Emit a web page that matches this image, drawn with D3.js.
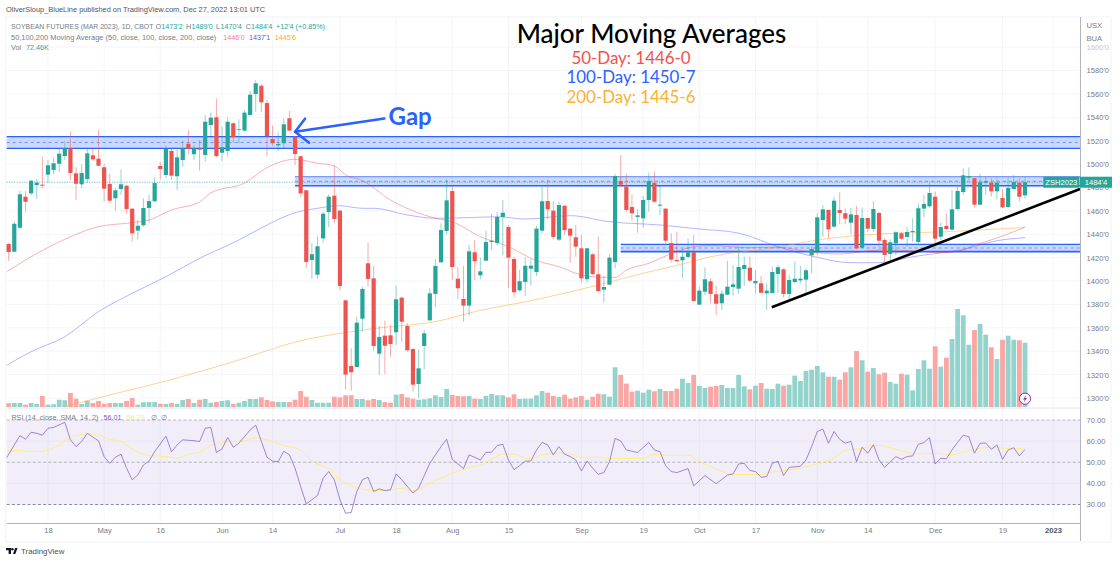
<!DOCTYPE html>
<html>
<head>
<meta charset="utf-8">
<script src="https://cdn.jsdelivr.net/npm/d3@7/dist/d3.min.js"></script>
<style>
	html, body { margin: 0; padding: 0; background: #fff; }
	svg { display: block; }
	text { font-family: "Liberation Sans", sans-serif; }
	.big { font-family: Lato, sans-serif; }
	.axis text { fill: #787b86; font-size: 7.6px; }
</style>
</head>
<body>
<svg id="chart" width="1120" height="563"></svg>
<script>
// daily candles, ZSH2023
const opens = [
	1431.7,1425.1,1445.6,1472.1,1475,1482.1,1482.4,1491,1495,1500.3,
	1506.9,1513.5,1492.1,1482.7,1487.2,1507.5,1504.6,1497.3,1483,1470.8,
	1478.7,1481.5,1461.9,1443.1,1447.7,1462.5,1468.2,1498.4,1490.7,1511.2,
	1489.6,1503.5,1517.4,1508.4,1513.5,1507.8,1533.4,1540,1509.7,1511.2,
	1534.9,1529.2,1528.6,1542,1559.9,1567,1552.2,1521.4,1516.1,1517.8,
	1539.2,1523.4,1506.7,1477.6,1418,1405.4,1436.5,1459,1473,1460.2,
	1383.5,1327.4,1326.5,1367.8,1415.2,1402.3,1337.9,1353.3,1353.6,1356.2,
	1385.8,1361.6,1341.9,1312,1344.5,1366.4,1389,1416,1442.8,1477,
	1402,1384.7,1379,1424.6,1404.9,1417.4,1433.4,1432.5,1454.8,1446.2,
	1418.9,1392.1,1399.2,1410.6,1407.7,1443.1,1468.4,1460.2,1435.4,1464.4,
	1444.8,1437.4,1428,1401.5,1422.9,1405.8,1392.6,1396.9,1416.3,1485.5,
	1480.7,1463.3,1454.8,1453.6,1469.3,1483.8,1464.4,1461.9,1432.5,1418,
	1417.7,1420.6,1424.6,1379.8,1390.9,1399.8,1388.7,1381,1388.3,1394.9,
	1393.5,1410.3,1411.4,1398.1,1398.1,1389.5,1389.8,1406,1410,1388.9,
	1399.2,1400.6,1401.2,1422,1425.7,1452.2,1460.8,1446.5,1460.8,1458,
	1449.9,1456.5,1428.5,1453.9,1444.5,1458.2,1435.1,1423.1,1432.3,1440.8,
	1437.7,1442,1433.4,1461.9,1463.9,1472.1,1437.9,1447.1,1443.9,1461.6,
	1476.1,1488.5,1487.9,1465.3,1484.1,1484.1,1476.7,1471,1463.3,1478.7,1484.1,1473.25
];
const closes = [
	1424.8,1449,1474.2,1467.8,1485.8,1484.1,1481.5,1499,1500.7,1508.9,
	1513.5,1492.4,1483.2,1492.4,1509.2,1504.1,1498.6,1479,1468.7,1477.6,
	1482.7,1461.6,1440.8,1447.3,1462.5,1468.4,1483.8,1495.8,1513.2,1490.1,
	1505.8,1513.5,1513.2,1513.5,1512.3,1536.2,1539.7,1506.9,1514.4,1536.2,
	1522.9,1529.8,1544,1559.3,1569.1,1552.8,1524,1517.8,1517.2,1534,
	1528.6,1508.6,1475,1416.3,1422.9,1429.7,1457.6,1472.1,1453.1,1395.8,
	1320,1322,1364.4,1393.2,1401.8,1344.5,1352.2,1344.7,1346.2,1384.4,
	1365.2,1340.8,1311.4,1325.4,1355.3,1389.5,1412.9,1443.6,1469,1412,
	1393.8,1379,1425.4,1416.9,1408.3,1433.4,1434.5,1454.8,1458.4,1420,
	1390.4,1399.8,1413.1,1413.1,1444.8,1468.2,1461.3,1437.7,1465,1443.6,
	1438.8,1429.4,1402.3,1428,1406,1391.5,1394.9,1420,1489.8,1482.4,
	1460.8,1457.9,1456.2,1469.3,1485.5,1467.8,1465.3,1434.5,1418.3,1416.9,
	1420.8,1424.6,1383,1391.8,1401.5,1389,1380.6,1389.2,1395.2,1397.2,
	1412,1413.7,1400.3,1400,1390,1391.8,1407.7,1411.8,1388.9,1400.9,
	1402,1402,1409.2,1427.4,1454.5,1461.3,1444.2,1468.7,1458.2,1453.3,
	1457,1428,1453.9,1444.8,1461.6,1434.5,1422.3,1433.1,1441.7,1436.2,
	1442,1442.8,1462.2,1465.9,1475.3,1436.2,1446.2,1444.5,1461.3,1477,
	1490.4,1489.8,1465.3,1484.4,1485.3,1476.7,1484.1,1463,1479.6,1484.7,1472.1,1484.5
];
const highs = [
	1432.5,1451.3,1477.3,1477,1486.4,1487.3,1506.3,1503.5,1505,1513.5,
	1519.5,1527.7,1497.3,1499.8,1514,1513.5,1529.2,1500.1,1491.5,1479.6,
	1495.5,1482.1,1462.2,1452.2,1470.7,1473.6,1488.7,1502,1516.3,1513.5,
	1512,1520,1529.2,1516.3,1520.6,1542,1544.3,1555.7,1532,1540,
	1535.7,1538.3,1546.2,1562.5,1571.9,1568.5,1554.8,1532.8,1527.2,1539.2,
	1545.4,1524,1507,1477.9,1432.3,1438.8,1459.3,1474.2,1498.6,1460.7,
	1383.8,1342.5,1369.5,1395.2,1432.8,1413.1,1361.6,1366.1,1361.8,1396,
	1386.6,1363.9,1342.3,1341.6,1358.2,1393.8,1418.6,1449.4,1487,1481.3,
	1411.8,1412.9,1430.8,1435.1,1420,1443,1457.9,1459,1469.3,1447.9,
	1420.8,1409.4,1420.3,1418.8,1447.1,1480.2,1487,1468.4,1467.9,1465,
	1445.4,1447.9,1439.4,1428.5,1423.7,1437.9,1404.3,1423.1,1491.5,1507.8,
	1491.5,1474.2,1461.3,1472.7,1492.6,1493.5,1482.1,1462.2,1440.8,1442.2,
	1427.4,1436.5,1439.4,1395.2,1411.8,1402.3,1396,1392.3,1417.4,1413.7,
	1429.4,1420.8,1420.8,1409.4,1404.3,1397.5,1412.3,1413.7,1410.9,1405.2,
	1416.5,1412.9,1410.9,1429.4,1457.9,1465,1461.2,1472.1,1475.9,1462.2,
	1462.7,1464.2,1463,1454.3,1468.4,1459.3,1436.5,1435.7,1442.8,1442.2,
	1446.5,1453.6,1466.5,1473.6,1483.6,1476.4,1449.9,1457.9,1477.9,1482.1,
	1496.4,1497.1,1488.1,1492.1,1489.2,1487.9,1488.7,1478.5,1488.7,1490.7,1488.4,1489
];
const lows = [
	1417.1,1424.8,1444.2,1459.3,1473.3,1470.2,1479.3,1484.1,1491.3,1493,
	1503.5,1486.4,1469.3,1479.3,1484.4,1502.6,1498.4,1468.2,1466.5,1460.1,
	1473.6,1457.9,1433.6,1435.7,1446.5,1449.4,1467.8,1486.7,1487.9,1486.4,
	1477.9,1497.8,1508.6,1503.5,1494.3,1502,1524,1505.8,1502.6,1506.3,
	1518,1517.8,1528.3,1542,1544.8,1544.3,1506.9,1515.7,1511.2,1513.5,
	1528.3,1499.2,1471.6,1410.9,1401.8,1401.8,1432.8,1446,1449.4,1392.3,
	1307.4,1306.3,1326.3,1356.7,1395.2,1340.4,1319.7,1320.3,1335.3,1345.3,
	1347.6,1339.6,1305.4,1299.8,1324.5,1366.1,1377.6,1415.7,1440,1400.9,
	1384.4,1365.3,1370.1,1400.9,1401.5,1417.2,1426.5,1430.8,1422.3,1393.8,
	1386.1,1390.9,1387.2,1396,1404.3,1440.8,1452.8,1435.7,1434.2,1439.4,
	1415.7,1420.8,1398.6,1398.6,1405.2,1390.4,1381.5,1396.6,1410.9,1480.7,
	1459.3,1451.6,1441.3,1445.6,1459.3,1467,1456.5,1432.3,1416,1416.5,
	1402.3,1419.5,1382.4,1379.5,1388.1,1381,1371,1375.2,1388.1,1387.5,
	1389,1396,1399.4,1389.5,1389.5,1375.2,1389.5,1389.5,1386.1,1384.4,
	1398.1,1398.1,1389.5,1406.6,1422.3,1437.9,1436.6,1445.6,1448.5,1448.5,
	1440.2,1427.1,1428,1442.2,1442.2,1429.4,1413.7,1416.5,1422.3,1435.1,
	1429.4,1433.6,1430.8,1454.5,1462.9,1431.7,1435.1,1444.1,1443.6,1460.7,
	1473.6,1486.4,1462.7,1465,1473.6,1472.1,1469.9,1462.5,1462.2,1478.3,1468.2,1470.5
];
// volume in thousands
const volumes = [
	4.2,4.5,4.5,2.6,4.5,3.4,12.4,2.6,3,8.2,
	7.6,15.8,9.4,3.4,7.1,4.5,6.8,3.7,4.5,4.5,
	4.5,6.8,10.1,2.6,5.3,5.6,5.6,3.7,3.4,4.5,
	3.4,7.9,9,4.5,8.2,9,4.8,5.6,6.8,7.6,
	3.4,4.8,6.8,9,9,10.9,7.9,6.4,5.6,5.6,
	5.6,8.2,18,11.6,7.9,4.8,4.8,4.8,11.6,10.9,
	13.2,13.2,9,9,7.6,9,7.9,5.6,4.8,13.9,
	14.7,10.9,9.4,8.2,8.7,9.8,13.2,11.3,20.3,13.5,
	12.4,12.1,12.4,9.4,9,12.4,14.7,13.2,13.2,10.9,
	14.3,9,9.4,9.4,13.2,18,16.1,12.4,11.3,13.9,
	9.4,10.9,12.4,8.2,11.6,15,14.3,11.6,44.7,36.1,
	26.3,17.2,18.4,16.1,19.5,17.7,20.3,18,18,20.6,
	31.9,27,36.1,23.7,21.4,22.9,23.7,24.8,21.4,21.4,
	36.1,23.3,19.9,24,27,20.6,20.3,26.3,24,25.1,
	35.3,29.3,40.6,42,46.2,39.1,34.1,34.1,30.8,39.1,
	44.7,63.1,52.6,39.8,44,36.9,38.7,28.2,26.3,37.5,
	36.4,18.8,42.8,52.6,43.2,68.4,45.4,55.6,76.6,110.4,
	103.3,70.2,86.8,93.5,81.5,67.3,54.1,75.8,80.4,75.8,75.2,72.46
];

// moving averages, read at the bends of each line (bar number, price)
const ma50Bars = [-0.35,4,10,16,22,25,29,34,36,42,46,51,55,58,60,63,68,73,76,79,84,89,94,98,102,106,108,110,114,117,119,122,125,132,137,143,148,155,161,166,170,172,174,179,181];
const ma50Values = [1408,1420.8,1435.7,1446.5,1449.9,1452.2,1460.8,1467.6,1475.3,1483.8,1496.9,1504.1,1500.7,1498.6,1490.7,1486,1469.3,1458.2,1453.7,1450.7,1437.9,1429.4,1417.4,1412.3,1405.2,1403.2,1403.2,1409.4,1415.2,1421.4,1425.1,1429.4,1430.4,1428.5,1428.9,1424.6,1423.1,1426.5,1426,1424.2,1426.5,1430.8,1433.6,1442.2,1446];
const ma100Bars = [-0.35,4,10,16,22,28,34,41,46,51,55,59,63,65,71,76,82,87,92,100,107,116,123,130,137,143,150,155,161,170,176,181];
const ma100Values = [1328,1339.6,1352.4,1373.8,1389.5,1403.7,1419.4,1435.1,1447.9,1458.4,1462.2,1464.4,1462.2,1462.2,1456.5,1453.7,1454.2,1455,1453,1455.9,1450.7,1447.9,1444.5,1441,1429.4,1421.4,1415.7,1415.7,1420.8,1427.1,1434.5,1437.1];
const ma200Bars = [10,18,28,40,52,61,67,76,83,95,105,113,120,125,137,144,155,167,181];
const ma200Values = [1292.6,1302.6,1314.5,1331,1349,1356.7,1360.5,1365.3,1373.8,1385.2,1396.6,1406.6,1414.6,1420.8,1428.9,1435.1,1440.2,1442.2,1445.8];

// RSI pane
const rsiBars = [-0.35,2,3,4,5,6,7,8,10,11,12,13,14,16,17,18,19,20,21,22,23,24,25,26,28,29,30,31,33,34,35,36,37,38,39,40,41,43,44,46,47,48,49,50,51,52,53,55,56,57,58,59,60,61,62,63,64,65,66,67,68,69,70,72,73,75,77,78,79,81,82,84,85,86,87,88,89,90,91,92,93,94,95,96,97,98,99,100,101,102,103,104,105,106,107,108,109,110,112,114,115,116,117,118,119,121,122,124,126,128,129,130,131,132,133,134,135,136,137,138,139,141,142,143,144,145,146,147,148,149,150,151,152,153,154,155,156,158,159,160,161,162,163,164,165,166,167,168,169,170,171,172,173,174,175,176,177,178,179,180,181];
const rsiValues = [52.2,62.6,60.9,64.2,63.7,62.8,66.1,66.5,68.9,60.6,57.4,59.8,63.7,60.1,52.7,49.5,52.4,53.8,47.2,41.7,44,48.7,50.6,55,62.4,55,58.2,60.6,60.2,59.8,66.1,66.5,54.6,56.3,61.7,57.1,59,65.3,67.5,52.4,50.5,50.3,55.2,53.5,47.2,38.5,30.2,34.3,42.4,45.6,41.7,32.2,25.9,26.2,36.1,41.7,42.9,36.1,37.4,36.6,36.9,44.5,41.7,35.4,37.7,49.5,57.4,60.9,51.4,47,53.5,51.1,54.7,54.7,57.9,58.5,51.1,46.5,48.4,50.5,50.6,55.8,59.4,58.2,53.5,57.4,53.8,52.7,51.1,45.9,50.6,47.2,44.3,45.1,50.3,61.3,60.1,55.8,54.6,59.4,55.8,55,48.4,45.6,45.1,47,38.8,43.7,39.8,43.9,44.5,49.2,49.5,46.1,45.6,42.9,43.2,49.5,50.5,43.7,47.6,48.1,51.1,57.4,64.5,65.7,59,64.6,60.9,59,59.9,50.3,57.1,54.3,58.3,51.1,47.6,52.7,51.4,52.7,53,58.5,59.3,61.7,49.2,51.9,51.6,55.8,59.4,62.8,62.1,54.3,59,59.1,56.1,58.2,51.4,55.8,56.9,53,56.01];
const rsiMaBars = [-0.35,2,4,6,9,11,14,16,18,20,22,25,28,30,32,34,36,39,42,44,47,49,52,54,57,59,61,65,68,70,72,75,79,82,84,86,88,90,92,93,95,98,100,102,105,107,113,115,117,121,123,126,129,134,136,139,141,144,147,149,152,155,157,159,162,165,168,171,175,179,181];
const rsiMaValues = [55.5,55.5,55,55.2,58.2,61.7,63.4,62.8,60.9,59.8,56.3,53.1,52.7,52,53.8,54.6,57.9,59.6,60.2,61.5,59.8,57.9,55.8,50.6,46.9,41.7,39,36.6,36.9,37.7,36.5,40.1,44.8,47.5,48.7,51.4,53.9,53.8,51.9,51.7,53.5,54.3,53.9,52.4,52.4,51.7,51.9,53.8,53.3,53.3,50.3,46.9,44.2,44.2,45.3,46.4,47.3,49.2,51.9,55.5,56.6,58,56.9,55.4,53.9,54.3,53.5,55.7,57.1,56.3,56.79];

// axes
const priceTicks = [1300,1320,1340,1360,1380,1400,1420,1440,1460,1480,1500,1520,1540,1560,1580,1600];
const rsiTicks = [30,40,50,60,70];
const timeTickBars = [7,17,27,38,47,59,69,79,89,102,113,123,133,144,153,165,177,186];
const timeTickLabels = ["18","May","16","Jun","14","Jul","18","Aug","15","Sep","19","Oct","17","Nov","14","Dec","19","2023"];

// drawings on the chart: [first bar, top price, bottom price]
const zoneBars = [-0.35, 51, 109];
const zoneTops = [1523.4, 1489.2, 1431.4];
const zoneBottoms = [1513.5, 1481.5, 1425.1];
const trendBars = [135.9, 190.8];
const trendPrices = [1377.6, 1478.7];
const gapArrowBars = [66.9, 51];
const gapArrowPrices = [1539, 1527.7];

const lastBar = 190.8; // right edge of the panes
const green = "#26a69a", red = "#ef5350", blue = "#2962ff";

var svg = d3.select("#chart");
var bars = d3.range(opens.length);

var x = d3.scaleLinear().domain([0, 181]).range([8.67, 1025]);
var y = d3.scaleLinear().domain([1300, 1520]).range([398, 140.7]);
var yVol = d3.scaleLinear().domain([0, 72.46]).range([407, 342.7]);
var yRsi = d3.scaleLinear().domain([30, 70]).range([504.5, 420]);

var paneLeft = x(-0.35), paneRight = x(lastBar);

// --- frame and grid
var frame = svg.append("g");
frame.append("rect").attr("x", paneLeft - 1).attr("y", 17).attr("width", 1112 - paneLeft).attr("height", 525).attr("fill", "none").attr("stroke", "#f0f3fa");

var grid = svg.append("g").attr("stroke", "#f3f5fb").attr("stroke-width", 1);
grid.selectAll(".gx").data(timeTickBars).join("line")
	.attr("x1", d => x(d)).attr("x2", d => x(d)).attr("y1", 17).attr("y2", 523);
grid.selectAll(".gy").data(priceTicks).join("line")
	.attr("x1", paneLeft).attr("x2", paneRight).attr("y1", d => y(d)).attr("y2", d => y(d));

// --- zones under the candles
var zones = svg.append("g");
zoneBars.forEach(function(bar, i) {
	var left = x(bar), top = y(zoneTops[i]), bottom = y(zoneBottoms[i]);
	zones.append("rect").attr("x", left).attr("y", top).attr("width", paneRight - left).attr("height", bottom - top)
		.attr("fill", blue).attr("fill-opacity", 0.24);
	zones.append("line").attr("x1", left).attr("x2", paneRight).attr("y1", top).attr("y2", top)
		.attr("stroke", blue).attr("stroke-width", 1.3).attr("stroke-opacity", i == 1 ? 0.6 : 1);
	zones.append("line").attr("x1", left).attr("x2", paneRight).attr("y1", bottom).attr("y2", bottom)
		.attr("stroke", blue).attr("stroke-width", i == 0 ? 1.3 : 1.7);
	zones.append("line").attr("x1", left).attr("x2", paneRight).attr("y1", (top + bottom) / 2).attr("y2", (top + bottom) / 2)
		.attr("stroke", blue).attr("stroke-opacity", 0.7).attr("stroke-width", 0.8).attr("stroke-dasharray", "3 3");
});

// --- current price line
svg.append("line").attr("x1", paneLeft).attr("x2", paneRight).attr("y1", y(closes[181])).attr("y2", y(closes[181]))
	.attr("stroke", green).attr("stroke-width", 0.8).attr("stroke-dasharray", "1 1.5");

// --- volume
svg.append("g").selectAll("rect").data(bars).join("rect")
	.attr("x", d => x(d) - 2.4).attr("width", 4.8)
	.attr("y", d => yVol(volumes[d])).attr("height", d => yVol(0) - yVol(volumes[d]))
	.attr("fill", d => closes[d] >= opens[d] ? "#93d3cb" : "#f9a6a4");

// --- moving averages
var straight = d3.line();
var smooth = d3.line().curve(d3.curveMonotoneX);
function addLine(parent, gen, xs, ys, scale, color, opacity, width) {
	parent.append("path")
		.attr("d", gen(xs.map((b, i) => [x(b), scale(ys[i])])))
		.attr("fill", "none").attr("stroke", color).attr("stroke-opacity", opacity).attr("stroke-width", width);
}
addLine(svg, smooth, ma200Bars, ma200Values, y, "#ffa726", 0.5, 1);
addLine(svg, smooth, ma100Bars, ma100Values, y, "#4c50ff", 0.42, 1);
addLine(svg, smooth, ma50Bars, ma50Values, y, "#f4434f", 0.42, 1);

// --- candles
var candles = svg.append("g");
candles.selectAll(".wick").data(bars).join("line")
	.attr("x1", d => x(d)).attr("x2", d => x(d))
	.attr("y1", d => y(highs[d])).attr("y2", d => y(lows[d]))
	.attr("stroke", d => closes[d] >= opens[d] ? green : red)
	.attr("stroke-width", 0.9).attr("stroke-opacity", 0.55);
candles.selectAll(".body").data(bars).join("rect")
	.attr("x", d => x(d) - 2.1).attr("width", 4.2)
	.attr("y", d => y(Math.max(opens[d], closes[d])))
	.attr("height", d => Math.max(0.8, Math.abs(y(opens[d]) - y(closes[d]))))
	.attr("fill", d => closes[d] >= opens[d] ? green : red);

// --- trend line and gap arrow
svg.append("line")
	.attr("x1", x(trendBars[0])).attr("x2", x(trendBars[1]))
	.attr("y1", y(trendPrices[0])).attr("y2", y(trendPrices[1]))
	.attr("stroke", "#000").attr("stroke-width", 2.6);

var tipX = x(gapArrowBars[1]), tipY = y(gapArrowPrices[1]);
var arrow = svg.append("g").attr("fill", "none").attr("stroke", blue).attr("stroke-width", 2.6).attr("stroke-linejoin", "round").attr("stroke-linecap", "round");
arrow.append("line").attr("x1", x(gapArrowBars[0])).attr("y1", y(gapArrowPrices[0])).attr("x2", tipX).attr("y2", tipY);
arrow.append("polyline").attr("points", [[tipX + 10, tipY - 13], [tipX, tipY], [tipX + 14, tipY + 11]].join(" "));
svg.append("text").attr("class", "big").attr("x", 388.5).attr("y", 125).attr("fill", blue)
	.attr("font-size", 24).attr("font-weight", 700).text("Gap");

// --- lightning badge
svg.append("circle").attr("cx", x(181)).attr("cy", 398.7).attr("r", 5.6).attr("fill", "#fff").attr("stroke", "#9c27b0").attr("stroke-width", 1);
svg.append("polygon").attr("fill", "#9c27b0")
	.attr("points", [[x(181) + 1.2, 395], [x(181) - 2, 399.4], [x(181) - 0.2, 399.4], [x(181) - 1.2, 402.4], [x(181) + 2, 398], [x(181) + 0.2, 398]].join(" "));

// --- RSI pane
var rsiPane = svg.append("g");
rsiPane.append("rect").attr("x", paneLeft).attr("width", paneRight - paneLeft)
	.attr("y", yRsi(70)).attr("height", yRsi(30) - yRsi(70)).attr("fill", "#7e57c2").attr("fill-opacity", 0.1);
[60, 40].forEach(v => rsiPane.append("line").attr("x1", paneLeft).attr("x2", paneRight).attr("y1", yRsi(v)).attr("y2", yRsi(v)).attr("stroke", "#e9e5f4"));
[70, 50, 30].forEach(function(v) {
	rsiPane.append("line").attr("x1", paneLeft).attr("x2", paneRight).attr("y1", yRsi(v)).attr("y2", yRsi(v))
		.attr("stroke", "#787b86").attr("stroke-opacity", v == 30 ? 0.85 : 0.5).attr("stroke-dasharray", "3 2.2");
});
addLine(rsiPane, smooth, rsiMaBars, rsiMaValues, yRsi, "#ffee58", 0.75, 1);
addLine(rsiPane, straight, rsiBars, rsiValues, yRsi, "#7e57c2", 0.7, 1);

// --- panes and axes
svg.append("line").attr("x1", paneLeft).attr("x2", paneRight).attr("y1", 408).attr("y2", 408).attr("stroke", "#e4e6ee");
svg.append("line").attr("x1", paneLeft).attr("x2", 1080.5).attr("y1", 523.5).attr("y2", 523.5).attr("stroke", "#b2b5be");
svg.append("line").attr("x1", 1080.5).attr("x2", 1080.5).attr("y1", 17).attr("y2", 541).attr("stroke", "#b2b5be");

var priceAxis = svg.append("g").attr("class", "axis").attr("transform", "translate(1086.5,0)")
	.call(d3.axisRight(y).tickValues(priceTicks).tickFormat(d => d + "'0").tickSize(0).tickPadding(0));
priceAxis.select(".domain").remove();
priceAxis.selectAll("text").filter(d => d == 1600).style("fill", "#c4c6ce");

var rsiAxis = svg.append("g").attr("class", "axis").attr("transform", "translate(1086.5,0)")
	.call(d3.axisRight(yRsi).tickValues(rsiTicks).tickFormat(d3.format(".2f")).tickSize(0).tickPadding(0));
rsiAxis.select(".domain").remove();

var timeAxis = svg.append("g").attr("class", "axis").attr("transform", "translate(0,528)")
	.call(d3.axisBottom(x).tickValues(timeTickBars).tickFormat((d, i) => timeTickLabels[i]).tickSize(0).tickPadding(0));
timeAxis.select(".domain").remove();
timeAxis.selectAll("text").filter(d => d == 186).style("fill", "#50535e").attr("font-weight", 700);

// --- last price labels
var priceY = y(closes[181]);
svg.append("rect").attr("x", 1043.3).attr("y", priceY - 5.5).attr("width", 36).attr("height", 11).attr("fill", green);
svg.append("rect").attr("x", 1080).attr("y", priceY - 5.5).attr("width", 32).attr("height", 11).attr("fill", green);
svg.append("text").attr("x", 1061.3).attr("y", priceY + 2.7).attr("text-anchor", "middle").attr("fill", "#fff").attr("font-size", 7.6).text("ZSH2023");
svg.append("text").attr("x", 1096).attr("y", priceY + 2.7).attr("text-anchor", "middle").attr("fill", "#fff").attr("font-size", 7.6).text("1484'4");

svg.append("text").attr("x", 1086.5).attr("y", 28).attr("fill", "#787b86").attr("font-size", 7.6).text("USX");
svg.append("text").attr("x", 1086.5).attr("y", 40.5).attr("fill", "#787b86").attr("font-size", 7.6).text("BUA");

// --- legend lines: [text, colour, left edge, font size]
function legend(py, parts) {
	parts.forEach(function(p) {
		svg.append("text").attr("x", p[2]).attr("y", py).attr("font-size", p[3] || 7.2).attr("fill", p[1]).text(p[0]);
	});
}
const gray = "#787b86";
legend(28.5, [["SOYBEAN FUTURES (MAR 2023), 1D, CBOT", gray, 11, 6.9],
	["O", gray, 155.5], ["1473'2", green, 161.3], ["H", gray, 186], ["1489'0", green, 191.5], ["L", gray, 216], ["1470'4", green, 220.5],
	["C", gray, 245.7], ["1484'4", green, 251], ["+12'4 (+0.85%)", green, 276]]);
legend(39.5, [["50,100,200 Moving Average (50, close, 100, close, 200, close)", gray, 11, 7.45],
	["1446'0", "#f77c80", 223.3], ["1437'1", "#5b5cff", 249], ["1445'6", "#ffa726", 274.7]]);
legend(50, [["Vol", gray, 11], ["72.46K", green, 26]]);
legend(419.5, [["RSI (14, close, SMA, 14, 2)", gray, 11.4], ["56.01", "#7e57c2", 103.6], ["56.79", "#ffee58", 126.8], ["∅", gray, 150.7], ["∅", gray, 160.7]]);

svg.append("text").attr("x", 6).attr("y", 12).attr("font-size", 7.4).attr("fill", "#50535e")
	.text("OliverSloup_BlueLine published on TradingView.com, Dec 27, 2022 13:01 UTC");

// --- big titles
const titleLines = ["50-Day: 1446-0", "100-Day: 1450-7", "200-Day: 1445-6"];
const titleColors = ["#ef5350", "#2962ff", "#f9b233"];
svg.append("text").attr("class", "big").attr("x", 651.5).attr("y", 42.5).attr("text-anchor", "middle")
	.attr("font-size", 26).attr("font-weight", 500).attr("fill", "#000").text("Major Moving Averages");
titleLines.forEach(function(t, i) {
	svg.append("text").attr("class", "big").attr("x", 631).attr("y", 63.5 + i * 19.5).attr("text-anchor", "middle")
		.attr("font-size", 16.9).attr("fill", titleColors[i]).text(t);
});

// --- footer
var logo = svg.append("g").attr("fill", "#131722");
logo.append("path").attr("d", "M6 548h5v6h-2.4v-3.8h-2.6z");
logo.append("circle").attr("cx", 12.4).attr("cy", 549.3).attr("r", 1.2);
logo.append("path").attr("d", "M13 554l2.1-6h2.5l-2.3 6z");
svg.append("text").attr("x", 21).attr("y", 554.3).attr("font-size", 7.9).attr("fill", "#4a4e59").text("TradingView");
</script>
</body>
</html>
